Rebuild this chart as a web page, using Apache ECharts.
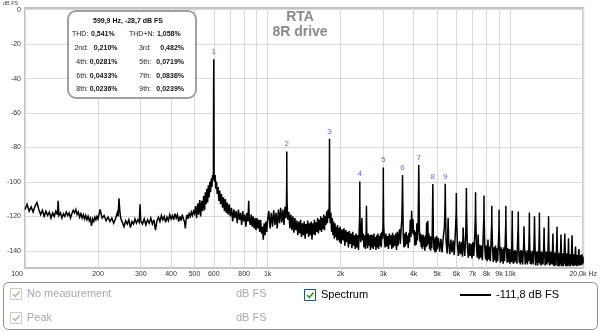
<!DOCTYPE html>
<html><head><meta charset="utf-8">
<script src="https://cdn.jsdelivr.net/npm/echarts@6/dist/echarts.min.js"></script>
<style>html,body{margin:0;padding:0;background:#fff}#c{width:600px;height:332px}</style>
</head><body><div id="c"></div>
<script>
// ---- spectrum, [Hz, dB FS] ----
const spec100to200 = [[100,-116],[102,-113],[104,-117],[106,-114.5],[108,-117.5],[110,-114],[112,-112],[114,-116],[116,-119],[118,-116.5],[120,-120],[122,-117],[124,-119.5],[126,-117.5],[128,-121],[130,-118],[132,-120],[134,-117],[136,-119],[137,-111],[138,-119.5],[140,-118],[142,-121],[144,-118.5],[146,-120],[148,-117.5],[150,-119.5],[152,-118],[154,-121],[156,-118.5],[158,-116.5],[160,-118],[162,-116],[164,-119],[166,-117.5],[168,-120.5],[170,-118.5],[172,-121],[174,-119],[176,-121.5],[178,-119.5],[180,-122],[182,-120],[184,-122.5],[186,-121],[188,-125.5],[190,-121.5],[192,-123],[194,-120.5],[196,-122],[198,-120],[200,-121.5]];
const spec200to500 = [[204,-116],[208,-121],[212,-119.5],[216,-122.5],[220,-120.5],[224,-123],[228,-121],[232,-124],[236,-121.5],[240,-118],[242,-120],[244,-109.5],[246,-117],[248,-121],[252,-123.5],[256,-126],[260,-122.5],[264,-124.5],[268,-122],[272,-126.5],[276,-123],[280,-124.5],[284,-121.5],[288,-124],[292,-122],[296,-123.5],[298,-113],[300,-122.5],[305,-124.5],[310,-121.5],[315,-125],[320,-122],[325,-124],[330,-121],[335,-124.5],[340,-122],[345,-128],[350,-122.5],[355,-120.5],[360,-123],[365,-119.5],[370,-122],[375,-120],[380,-123.5],[385,-120.5],[390,-122.5],[395,-119],[400,-121.5],[405,-119.5],[410,-122],[415,-118.5],[420,-121],[425,-119],[430,-123],[435,-120],[440,-122.5],[445,-119],[450,-121.5],[455,-123.5],[458,-127],[462,-121],[466,-119],[470,-121.5],[475,-118.5],[480,-120],[485,-117.5],[490,-119.5],[495,-117],[500,-118.5]];
const spec500to1k = [[505,-114],[510,-121],[515,-112.5],[520,-119],[525,-110.5],[530,-120],[535,-111],[540,-117],[545,-108],[550,-116.5],[554,-106],[558,-113],[562,-104],[566,-112],[570,-102],[574,-109],[578,-100],[582,-106],[586,-98],[590,-103],[593,-96],[596,-99],[598,-94],[599,-49],[600,-28.7],[601,-50],[602,-95],[605,-100],[608,-96],[612,-104],[616,-100],[620,-107],[625,-103],[630,-111],[635,-105],[640,-113],[646,-107],[652,-115],[658,-109],[664,-117],[670,-110],[676,-118],[682,-112],[688,-119],[695,-113],[702,-120],[710,-115],[718,-123],[726,-116],[734,-121],[742,-117],[750,-124],[758,-116],[766,-122],[774,-118],[782,-125],[790,-117],[798,-123],[806,-119],[814,-126],[822,-118],[830,-123],[836,-111],[840,-121],[848,-125],[856,-119],[864,-126],[872,-120],[880,-127],[888,-121],[896,-128],[904,-121],[912,-127],[920,-122],[928,-129],[936,-122],[944,-130],[952,-126],[960,-133.5],[968,-124],[976,-131],[984,-123],[992,-129],[1000,-122]];
const spec1kto3k = [[1012,-117],[1024,-127],[1036,-118],[1048,-126],[1060,-116.5],[1072,-125],[1084,-118],[1096,-127],[1108,-116],[1120,-124],[1132,-115],[1144,-123.5],[1156,-116],[1168,-125],[1180,-114.5],[1190,-121],[1196,-112],[1199,-100.5],[1200,-82.3],[1201,-101],[1204,-113],[1212,-122],[1224,-117.5],[1236,-127],[1248,-119],[1260,-128],[1272,-120],[1284,-129.5],[1296,-121],[1308,-128],[1320,-122.5],[1332,-131],[1344,-123],[1356,-130],[1368,-122],[1380,-132],[1392,-124],[1404,-131],[1416,-123],[1428,-133],[1440,-124.5],[1452,-130],[1464,-122.5],[1476,-132],[1488,-124],[1500,-131],[1512,-123],[1524,-133.5],[1536,-124],[1548,-130.5],[1560,-122],[1572,-131],[1584,-123.5],[1596,-129],[1608,-121],[1620,-130],[1632,-122],[1644,-128],[1656,-120],[1668,-129],[1680,-121],[1692,-127.5],[1704,-119],[1716,-128],[1728,-120],[1740,-125],[1752,-117],[1764,-124],[1776,-116],[1788,-121],[1795,-113],[1799,-87],[1800,-75.0],[1801,-88],[1805,-114],[1812,-124],[1824,-118],[1836,-129],[1848,-121],[1860,-131],[1872,-123],[1884,-133],[1896,-124],[1908,-132],[1920,-126],[1932,-134],[1944,-125],[1956,-133.5],[1968,-127],[1980,-135],[1992,-126],[2010,-136],[2028,-127.5],[2046,-134],[2064,-127],[2082,-137],[2100,-128],[2118,-135],[2136,-129],[2154,-138],[2172,-128.5],[2190,-136],[2208,-130],[2226,-138.5],[2244,-129],[2262,-137],[2280,-131],[2298,-139],[2316,-130],[2334,-138],[2352,-131],[2370,-139.5],[2385,-128],[2395,-122],[2399,-110],[2400,-99.7],[2401,-111],[2405,-124],[2418,-135],[2436,-127],[2448,-121],[2460,-134],[2478,-130],[2496,-138],[2514,-131],[2532,-139],[2548,-130],[2556,-113.9],[2564,-131],[2582,-138.5],[2600,-130],[2618,-137],[2636,-131],[2654,-139.5],[2672,-130.5],[2690,-138],[2708,-131],[2726,-139],[2744,-130],[2762,-137.5],[2780,-132],[2798,-139.5],[2816,-131],[2834,-138],[2852,-130],[2870,-139],[2888,-131.5],[2906,-137],[2924,-130],[2942,-138],[2960,-129],[2978,-133],[2990,-126],[2999,-104],[3000,-91.6],[3001,-105],[3010,-125]];
const spec3kto5k = [[3025,-131],[3050,-138],[3075,-130],[3100,-137.5],[3125,-131.5],[3150,-139],[3175,-130],[3200,-136.5],[3225,-131],[3250,-139],[3275,-129.5],[3300,-138],[3325,-131],[3350,-137],[3375,-130],[3400,-139.5],[3425,-129],[3450,-137],[3475,-131],[3500,-127.5],[3525,-136],[3550,-128],[3575,-122],[3590,-110],[3600,-96.0],[3610,-112],[3625,-131],[3650,-138],[3675,-130],[3700,-137.5],[3725,-129],[3750,-136],[3775,-131],[3800,-138.5],[3825,-129.5],[3850,-135],[3875,-122],[3900,-132],[3925,-116.8],[3950,-130],[3975,-121.5],[4000,-131],[4025,-128],[4050,-137],[4075,-129],[4100,-136.5],[4125,-124],[4150,-134],[4175,-125],[4190,-105],[4200,-90.2],[4210,-106],[4225,-128],[4250,-135],[4275,-130],[4300,-138],[4325,-131],[4350,-139],[4375,-130.5],[4400,-137.5],[4425,-132],[4450,-140],[4475,-131],[4500,-138],[4525,-123.5],[4550,-137],[4575,-122.5],[4600,-136],[4625,-130],[4650,-139],[4675,-131.5],[4700,-140],[4725,-132],[4750,-138.5],[4775,-128],[4790,-112],[4800,-101.2],[4810,-114],[4825,-131],[4850,-139.5],[4875,-133],[4900,-141],[4925,-132],[4950,-140.5],[4975,-131.5],[5000,-139]];
const spec5kto10k = [[5060,-132.5],[5120,-140.5],[5180,-133],[5240,-141],[5300,-132],[5360,-126],[5390,-112],[5400,-101.1],[5410,-113],[5440,-134],[5500,-141.5],[5550,-121],[5580,-135],[5640,-142],[5700,-133.5],[5760,-141],[5820,-134],[5880,-142.5],[5950,-128],[5990,-118],[6000,-106.5],[6010,-119],[6060,-136],[6120,-143],[6180,-134.5],[6240,-142],[6300,-135],[6360,-143.5],[6400,-126.5],[6440,-136],[6500,-143],[6560,-131],[6590,-115],[6600,-103.6],[6610,-116],[6660,-137],[6720,-144],[6780,-135.5],[6840,-143],[6900,-136],[6960,-144.5],[7020,-135],[7080,-143],[7150,-130],[7190,-118],[7200,-106],[7210,-119],[7260,-137],[7320,-144],[7380,-130.5],[7440,-145],[7500,-136.5],[7560,-144],[7620,-137],[7680,-145.5],[7740,-132],[7790,-120],[7800,-107.9],[7810,-121],[7860,-138],[7920,-145],[7980,-137],[8040,-146],[8100,-133.5],[8160,-145],[8220,-137.5],[8280,-146],[8340,-135],[8390,-124],[8400,-113.9],[8410,-125],[8460,-138],[8520,-146.5],[8580,-138],[8640,-145.5],[8700,-137],[8760,-147],[8820,-138.5],[8880,-146],[8940,-136],[8990,-127],[9000,-116.2],[9010,-128],[9060,-139],[9120,-147],[9180,-138],[9240,-146],[9300,-139],[9360,-147.5],[9420,-138],[9480,-146],[9540,-135],[9590,-125],[9600,-113.9],[9610,-126],[9660,-139.5],[9720,-147],[9780,-138.5],[9840,-146.5],[9900,-139],[9960,-147.5]];
const spec10kto20k = [[10020,-146],[10080,-139],[10140,-146.5],[10170,-131],[10190,-125],[10200,-116.7],[10210,-127],[10240,-138],[10300,-147.5],[10360,-140],[10420,-147],[10480,-139.5],[10540,-146],[10600,-140.5],[10660,-147.5],[10720,-136],[10770,-128],[10790,-124],[10800,-117.2],[10810,-126],[10840,-138],[10900,-147],[10960,-140.5],[11020,-148],[11080,-139.5],[11140,-146.5],[11200,-140],[11260,-148],[11320,-141],[11370,-136],[11400,-125.7],[11430,-135],[11480,-141],[11540,-148],[11600,-140],[11660,-147],[11720,-141],[11780,-148],[11840,-139.5],[11900,-146],[11960,-134],[11990,-125],[12000,-117.7],[12010,-127],[12040,-137],[12100,-147.5],[12160,-140],[12220,-148],[12280,-141.5],[12340,-147],[12400,-140],[12460,-148],[12520,-139],[12570,-131],[12600,-120],[12630,-131],[12680,-141],[12740,-148.5],[12800,-140.5],[12860,-147],[12920,-141],[12980,-148.5],[13040,-140],[13100,-147],[13160,-133],[13190,-126],[13200,-117.7],[13210,-127],[13240,-138],[13300,-148],[13360,-141],[13420,-148.5],[13480,-140.5],[13540,-147.5],[13600,-141.5],[13660,-148],[13720,-140],[13770,-134],[13800,-126.5],[13830,-136],[13880,-141.5],[13940,-148.5],[14000,-141],[14060,-147.5],[14120,-140.5],[14180,-148],[14240,-141],[14300,-147],[14350,-134],[14380,-129],[14400,-120],[14420,-130],[14470,-141],[14530,-148.5],[14590,-141],[14650,-148],[14710,-140.5],[14770,-147.5],[14830,-141.5],[14900,-148],[14960,-137],[15000,-130],[15040,-138],[15100,-148.5],[15160,-141],[15220,-149],[15280,-141.5],[15340,-148],[15400,-141],[15460,-148.5],[15520,-138],[15570,-133],[15600,-126],[15630,-134],[15680,-142],[15740,-149],[15800,-141.5],[15860,-148.5],[15920,-142],[15980,-149],[16040,-141],[16100,-148],[16160,-137],[16200,-130.5],[16240,-138],[16300,-149],[16360,-142],[16420,-148.5],[16480,-141.5],[16540,-149],[16600,-142],[16660,-148],[16720,-138],[16770,-134],[16800,-130],[16830,-136],[16880,-142.5],[16940,-149],[17000,-142],[17060,-148.5],[17120,-141.5],[17180,-149],[17240,-142.5],[17300,-148],[17360,-139],[17400,-132.7],[17440,-139],[17500,-149],[17560,-142],[17620,-148.5],[17680,-142.5],[17740,-149],[17800,-142],[17860,-148],[17940,-138],[18000,-131],[18040,-139],[18100,-148.5],[18160,-142.5],[18220,-149],[18280,-142],[18340,-148],[18400,-143],[18460,-148.5],[18540,-141],[18600,-137.5],[18650,-142],[18700,-148.5],[18760,-143],[18820,-149],[18880,-142.5],[18940,-148],[19000,-143],[19060,-148.5],[19140,-141.5],[19200,-139],[19250,-143],[19310,-148.5],[19370,-143],[19430,-148],[19490,-142.5],[19550,-148.5],[19610,-143],[19670,-148],[19740,-142],[19800,-141],[19850,-143.5],[19910,-148],[19970,-143.5],[20000,-147]];

// ---- harmonic markers ----
const harmonicHz = [600,1200,1800,2400,3000,3600,4200,4800,5400];
const harmonicDb = [-28.7,-82.3,-75.0,-99.7,-91.6,-96.0,-90.2,-101.2,-101.1];
const harmonicLabels = ['1','2','3','4','5','6','7','8','9'];

// ---- axes ----
const xGridHz = [100,200,300,400,500,600,700,800,900,1000,2000,3000,4000,5000,6000,7000,8000,9000,10000,20000];
const xLabelHz = [100,200,300,400,500,600,800,1000,2000,3000,4000,5000,6000,7000,8000,9000,10000,20000];
const xLabelText = ['100','200','300','400','500','600','800','1k','2k','3k','4k','5k','6k','7k','8k','9k','10k','20,0k Hz'];
const yTicks = [0,-20,-40,-60,-80,-100,-120,-140];

// ---- info box / legend texts ----
const infoHeader = '599,9 Hz, -28,7 dB FS';
const thdText = ['THD:', '0,541%', 'THD+N:', '1,058%'];
const hNamesLeft = ['2nd:','4th:','6th:','8th:'];
const hValuesLeft = ['0,210%','0,0281%','0,0433%','0,0236%'];
const hNamesRight = ['3rd:','5th:','7th:','9th:'];
const hValuesRight = ['0,482%','0,0719%','0,0836%','0,0239%'];
const titleLines = ['RTA','8R drive'];
const legendLeft = ['No measurement','Peak'];
const legendUnit = 'dB FS';
const legendSpectrum = 'Spectrum';
const legendValue = '-111,8 dB FS';

const FF = '"Liberation Sans", Arial, sans-serif';
const spectrum = [].concat(spec100to200, spec200to500, spec500to1k, spec1kto3k, spec3kto5k, spec5kto10k, spec10kto20k);

function txt(text, x, y, opts) {
  opts = opts || {};
  return {
    type: 'text', z: 100,
    style: {
      text: text, x: x, y: y,
      fill: opts.fill || '#222',
      font: (opts.bold ? 'bold ' : '') + (opts.size || 7) + 'px ' + FF,
      textAlign: opts.align || 'left', align: opts.align || 'left',
      textVerticalAlign: 'middle', verticalAlign: 'middle'
    }
  };
}
function check(x, y, color) {
  return { type: 'polyline', z: 100, shape: { points: [[x+2.5,y+5.5],[x+4.8,y+8],[x+9,y+3]] }, style: { stroke: color, lineWidth: 1.6, fill: null } };
}

const graphics = [];
graphics.push(txt(titleLines[0], 300, 17, {bold: true, size: 14, fill: '#8a8a8a', align: 'center'}));
graphics.push(txt(titleLines[1], 300, 32, {bold: true, size: 14, fill: '#8a8a8a', align: 'center'}));
graphics.push(txt('dB FS', 3, 3, {size: 5.5, fill: '#444'}));
graphics.push({ type: 'rect', z: 99, shape: { x: 68, y: 11, width: 128, height: 87, r: 8 }, style: { fill: '#fff', stroke: '#a0a0a0', lineWidth: 2 } });
graphics.push(txt(infoHeader, 128, 21, {bold: true, fill: '#111', align: 'center'}));
graphics.push(txt(thdText[0], 72, 34.5, {}));
graphics.push(txt(thdText[1], 91, 34.5, {bold: true, fill: '#111'}));
graphics.push(txt(thdText[2], 129, 34.5, {}));
graphics.push(txt(thdText[3], 157, 34.5, {bold: true, fill: '#111'}));
const rowY = [48.3, 62, 75.7, 89.3];
for (let i = 0; i < 4; i++) {
  graphics.push(txt(hNamesLeft[i], 88, rowY[i], {align: 'right'}));
  graphics.push(txt(hValuesLeft[i], 117.5, rowY[i], {bold: true, fill: '#111', align: 'right'}));
  graphics.push(txt(hNamesRight[i], 151, rowY[i], {align: 'right'}));
  graphics.push(txt(hValuesRight[i], 184, rowY[i], {bold: true, fill: '#111', align: 'right'}));
}
graphics.push({ type: 'rect', z: 99, shape: { x: 3.5, y: 282.5, width: 594, height: 47, r: 5 }, style: { fill: '#fff', stroke: '#8f8f8f', lineWidth: 1 } });
const legRowY = [294, 318];
for (let i = 0; i < 2; i++) {
  graphics.push({ type: 'rect', z: 100, shape: { x: 10.5, y: legRowY[i] - 5.5, width: 11, height: 11 }, style: { fill: '#fff', stroke: '#c8c8bc', lineWidth: 1 } });
  graphics.push(check(10.5, legRowY[i] - 5.5, '#b8b8b0'));
  graphics.push(txt(legendLeft[i], 27, legRowY[i], {size: 11, fill: '#a8a8a8'}));
  graphics.push(txt(legendUnit, 236, legRowY[i], {size: 11, fill: '#a8a8a8'}));
}
graphics.push({ type: 'rect', z: 100, shape: { x: 304.5, y: 289.5, width: 11, height: 11 }, style: { fill: '#fff', stroke: '#1c5180', lineWidth: 1 } });
graphics.push(check(304.5, 289.5, '#22a022'));
graphics.push(txt(legendSpectrum, 321, 295, {size: 11, fill: '#000'}));
graphics.push({ type: 'line', z: 100, shape: { x1: 460, y1: 295, x2: 491, y2: 295 }, style: { stroke: '#000', lineWidth: 2 } });
graphics.push(txt(legendValue, 496, 295, {size: 11, fill: '#000'}));

const chart = echarts.init(document.getElementById('c'), null, { renderer: 'canvas' });
chart.setOption({
  animation: false,
  backgroundColor: '#fff',
  grid: { left: 25, right: 13, top: 8, bottom: 64, show: true, borderColor: '#c4c4c4', borderWidth: 2, backgroundColor: '#fff' },
  xAxis: {
    type: 'log', logBase: 10, min: 100, max: 20000,
    axisLine: { show: false },
    axisTick: { show: false, customValues: xGridHz },
    splitLine: { show: true, lineStyle: { color: '#d9d9d9', width: 1 } },
    minorSplitLine: { show: false },
    axisLabel: {
      customValues: xLabelHz, showMinLabel: true, showMaxLabel: true, hideOverlap: false,
      margin: 3, fontSize: 7, color: '#333', fontFamily: FF,
      formatter: function (v) {
        const i = xLabelHz.findIndex(h => Math.abs(h - v) < 1e-6 * h);
        if (i === 0) return '{first|' + xLabelText[0] + '}';
        return i >= 0 ? xLabelText[i] : '';
      },
      rich: { first: { fontSize: 7, color: '#333', fontFamily: FF, padding: [0, 16, 0, 0] } }
    }
  },
  yAxis: {
    type: 'value', min: -150, max: 1,
    axisLine: { show: false },
    axisTick: { show: false, customValues: yTicks },
    splitLine: { show: true, lineStyle: { color: '#d9d9d9', width: 1 } },
    axisLabel: { customValues: yTicks, margin: 4, fontSize: 7, color: '#333', fontFamily: FF }
  },
  series: [
    {
      type: 'line', data: spectrum, showSymbol: false, symbol: 'none', sampling: false,
      lineStyle: { color: '#000', width: 1.5, join: 'miter', miterLimit: 4 }, z: 3
    },
    {
      type: 'scatter', data: harmonicHz.map((h, i) => [h, harmonicDb[i]]),
      symbolSize: 1, itemStyle: { color: 'rgba(0,0,0,0)' }, z: 4,
      label: { show: true, position: 'top', distance: 3, fontSize: 8, color: '#3a3aff', fontFamily: FF,
        formatter: p => harmonicLabels[p.dataIndex] }
    }
  ],
  graphic: graphics
});
</script></body></html>
